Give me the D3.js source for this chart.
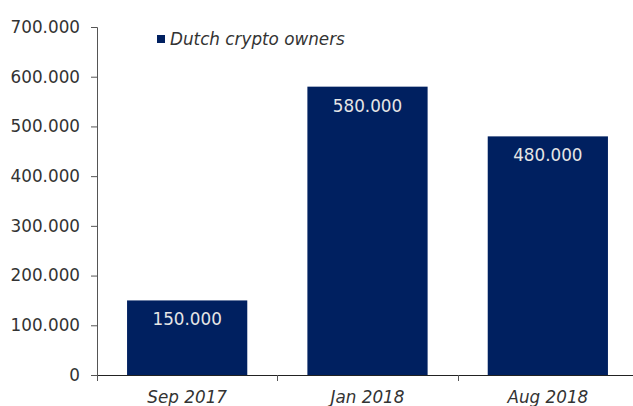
<!DOCTYPE html>
<meta charset="utf-8">
<script src="https://d3js.org/d3.v7.min.js"></script>
<style>
  body { margin: 0; background: #fff; }
  text { font-family: "DejaVu Sans", Verdana, sans-serif; }
</style>
<div id="chart"></div>
<script>
  // data
  var categories = ["Sep 2017", "Jan 2018", "Aug 2018"];
  var owners = [150000, 580000, 480000];
  var yTicks = [0, 100000, 200000, 300000, 400000, 500000, 600000, 700000];
  var seriesName = "Dutch crypto owners";

  var W = 633, H = 406;
  var plotLeft = 97, plotRight = 638, plotTop = 27, plotBottom = 375;
  var fs = "16.8px";

  var fmt = function(v) { return v === 0 ? "0" : d3.format(",")(v).replace(/,/g, "."); };

  var svg = d3.select("#chart").append("svg")
    .attr("width", W).attr("height", H);

  var x = d3.scaleBand()
    .domain(categories)
    .range([plotLeft, plotRight])
    .paddingInner(1/3)
    .paddingOuter(1/6);

  var y = d3.scaleLinear()
    .domain([0, 700000])
    .range([plotBottom, plotTop]);

  // bars
  svg.selectAll("rect.bar")
    .data(owners)
    .enter().append("rect")
      .attr("class", "bar")
      .attr("x", function(d, i) { return x(categories[i]); })
      .attr("y", function(d) { return y(d); })
      .attr("width", x.bandwidth())
      .attr("height", function(d) { return plotBottom - y(d); })
      .attr("fill", "#002060");

  // value labels inside bars
  svg.selectAll("text.val")
    .data(owners)
    .enter().append("text")
      .attr("class", "val")
      .attr("x", function(d, i) { return x(categories[i]) + x.bandwidth() / 2; })
      .attr("y", function(d) { return y(d) + 25; })
      .attr("text-anchor", "middle")
      .attr("font-size", fs)
      .attr("fill", "#e6e6e6")
      .text(fmt);

  // y axis
  var yAxis = svg.append("g")
    .attr("transform", "translate(" + plotLeft + ",0)")
    .call(d3.axisLeft(y).tickValues(yTicks).tickFormat(fmt).tickSize(6).tickPadding(11));
  yAxis.selectAll("path, line").attr("stroke", "#555");
  yAxis.selectAll("text").attr("font-size", fs).attr("fill", "#333")
    .style("font-family", "'DejaVu Sans', Verdana, sans-serif");

  // x axis line + boundary ticks
  svg.append("line")
    .attr("x1", plotLeft).attr("x2", W).attr("y1", plotBottom + 0.5).attr("y2", plotBottom + 0.5)
    .attr("stroke", "#222");
  var step = x.step();
  var bounds = d3.range(categories.length + 1).map(function(i) { return plotLeft + i * step; });
  svg.selectAll("line.xt")
    .data(bounds)
    .enter().append("line")
      .attr("class", "xt")
      .attr("x1", function(d) { return Math.round(d) + 0.5; })
      .attr("x2", function(d) { return Math.round(d) + 0.5; })
      .attr("y1", plotBottom).attr("y2", plotBottom + 6)
      .attr("stroke", "#555");

  svg.selectAll("text.cat")
    .data(categories)
    .enter().append("text")
      .attr("class", "cat")
      .attr("x", function(d) { return x(d) + x.bandwidth() / 2; })
      .attr("y", 403)
      .attr("text-anchor", "middle")
      .attr("font-size", fs)
      .attr("font-style", "italic")
      .attr("fill", "#333")
      .text(function(d) { return d; });

  // legend
  svg.append("rect")
    .attr("x", 157).attr("y", 35).attr("width", 8).attr("height", 8)
    .attr("fill", "#002060");
  svg.append("text")
    .attr("x", 170).attr("y", 45)
    .attr("font-size", fs)
    .attr("font-style", "italic")
    .attr("fill", "#333")
    .text(seriesName);
</script>
